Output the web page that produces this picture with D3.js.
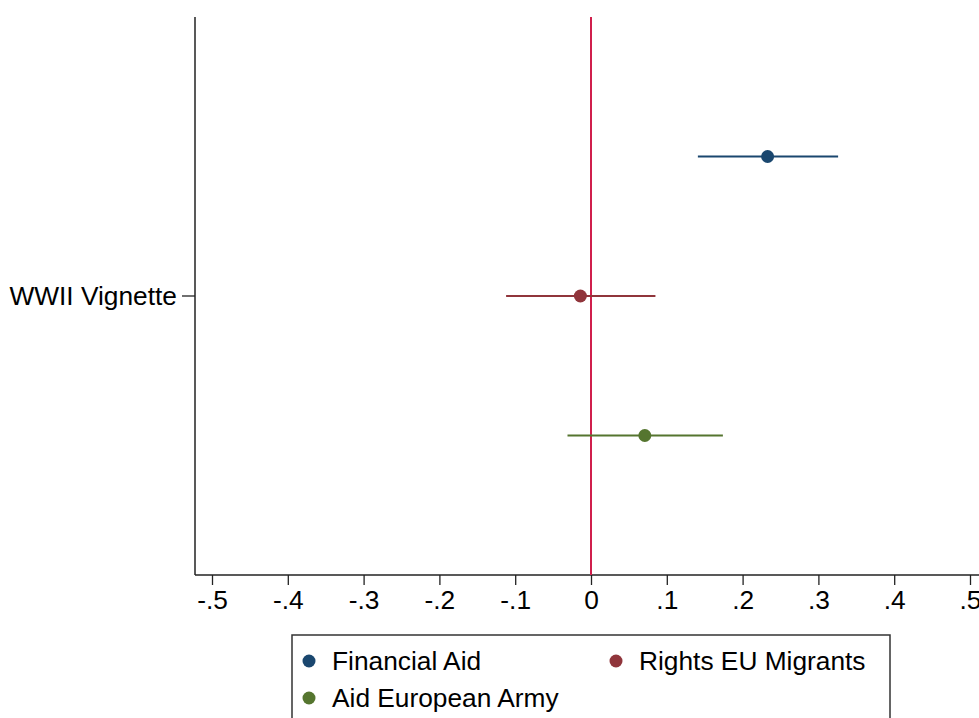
<!DOCTYPE html>
<html>
<head>
<meta charset="utf-8">
<script src="https://cdn.jsdelivr.net/npm/d3@7/dist/d3.min.js"></script>
<style>
  html, body { margin: 0; padding: 0; background: #fff; }
  svg { display: block; font-family: "Liberation Sans", Arial, Helvetica, sans-serif; }
</style>
</head>
<body>
<svg id="chart" width="979" height="718"></svg>
<script>
// Coefficient plot: point estimates with confidence intervals
const categories = ["WWII Vignette"];
const seriesNames = ["Financial Aid", "Rights EU Migrants", "Aid European Army"];
const seriesColors = ["#1a476f", "#90353b", "#55752f"];
const estimates = [0.233, -0.014, 0.071];
const ciLower = [0.141, -0.112, -0.031];
const ciUpper = [0.326, 0.085, 0.174];
const xTicks = [-0.5, -0.4, -0.3, -0.2, -0.1, 0, 0.1, 0.2, 0.3, 0.4, 0.5];
const xTickLabels = ["-.5", "-.4", "-.3", "-.2", "-.1", "0", ".1", ".2", ".3", ".4", ".5"];
const seriesOffsets = [0.5, 0, -0.5];

const svg = d3.select("#chart");
const plot = { left: 195, right: 979, top: 17, bottom: 575 };
const FS = 26.3;

const x = d3.scaleLinear().domain([-0.5, 0.5]).range([212, 970]);
const y = d3.scaleLinear().domain([-1, 1]).range([plot.bottom, plot.top]);
const catPos = d3.scalePoint().domain(categories).range([0, 0]);

// x axis
const xAxis = svg.append("g").attr("transform", `translate(0,${plot.bottom})`)
  .call(d3.axisBottom(x).tickValues(xTicks)
    .tickFormat((d, i) => xTickLabels[i]).tickSize(10).tickPadding(5));
xAxis.select(".domain").remove();
xAxis.append("line").attr("x1", plot.left).attr("x2", plot.right)
  .attr("y1", 0).attr("y2", 0).attr("stroke", "#222").attr("stroke-width", 1.5);
xAxis.selectAll(".tick line").attr("stroke", "#222").attr("stroke-width", 1.3);
xAxis.selectAll(".tick text").attr("fill", "#000").attr("font-size", FS)
  .attr("font-family", "Liberation Sans, Arial, sans-serif");

// y axis
const yAxis = svg.append("g").attr("transform", `translate(${plot.left},0)`);
yAxis.append("line").attr("x1", 0).attr("x2", 0)
  .attr("y1", plot.top).attr("y2", plot.bottom).attr("stroke", "#222").attr("stroke-width", 1.5);
categories.forEach(c => {
  const yy = y(catPos(c));
  yAxis.append("line").attr("x1", -13).attr("x2", 0).attr("y1", yy).attr("y2", yy)
    .attr("stroke", "#222").attr("stroke-width", 1.3);
  yAxis.append("text").attr("x", -18).attr("y", yy).attr("dy", "0.35em")
    .attr("text-anchor", "end").attr("font-size", FS).attr("fill", "#000").text(c);
});

// reference line at zero
svg.append("line").attr("x1", x(0)).attr("x2", x(0))
  .attr("y1", plot.top).attr("y2", plot.bottom)
  .attr("stroke", "#d01f4c").attr("stroke-width", 2);

// confidence intervals and point estimates
const rows = seriesNames.map((name, i) => ({
  name, color: seriesColors[i], est: estimates[i], lo: ciLower[i], hi: ciUpper[i],
  pos: catPos(categories[0]) + seriesOffsets[i]
}));
const g = svg.append("g");
g.selectAll("line.ci").data(rows).join("line").attr("class", "ci")
  .attr("x1", d => x(d.lo)).attr("x2", d => x(d.hi))
  .attr("y1", d => y(d.pos)).attr("y2", d => y(d.pos))
  .attr("stroke", d => d.color).attr("stroke-width", 2);
g.selectAll("circle").data(rows).join("circle")
  .attr("cx", d => x(d.est)).attr("cy", d => y(d.pos)).attr("r", 6.5)
  .attr("fill", d => d.color);

// legend
const legend = svg.append("g");
legend.append("rect").attr("x", 292).attr("y", 635).attr("width", 598).attr("height", 100)
  .attr("fill", "#fff").attr("stroke", "#333").attr("stroke-width", 1.5);
const legendPos = [[309, 661], [616, 661], [309, 698]];
rows.forEach((d, i) => {
  const [lx, ly] = legendPos[i];
  legend.append("circle").attr("cx", lx).attr("cy", ly).attr("r", 6.5).attr("fill", d.color);
  legend.append("text").attr("x", lx + 23).attr("y", ly).attr("dy", "0.35em")
    .attr("font-size", FS).attr("fill", "#000").text(d.name);
});
</script>
</body>
</html>
